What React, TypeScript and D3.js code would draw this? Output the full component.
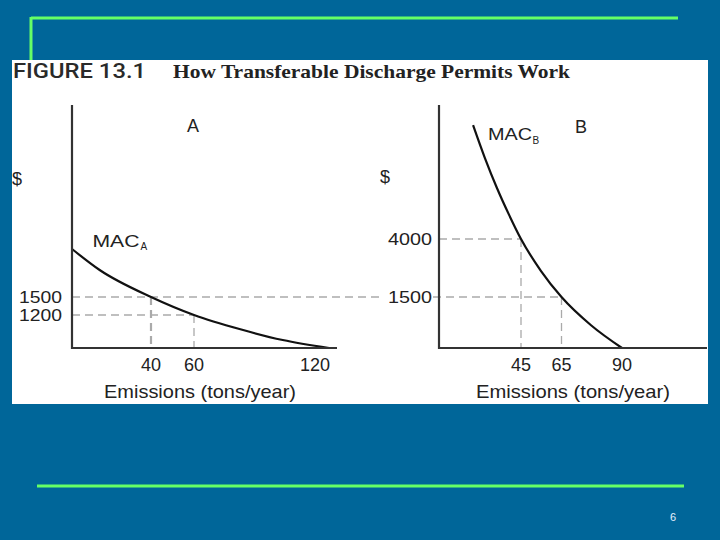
import React from "react";
import * as d3 from "d3";

// ---------- data ----------
const titleNumber = "FIGURE 13.1";
const titleText = "How Transferable Discharge Permits Work";
const xLabel = "Emissions (tons/year)";
const pageNumber = "6";

// Panel A
const xTicksA = [40, 60, 120];
const yTicksA = [1200, 1500];
const macAEmissions = [0, 14, 40, 60, 83, 104, 127];
const macAValues = [2300, 1950, 1500, 1200, 680, 290, 0];
const guidesA = [
  { x: 40, y: 1500 },
  { x: 60, y: 1200 },
];

// Panel B
const xTicksB = [45, 65, 90];
const yTicksB = [1500, 4000];
const macBEmissions = [18.7, 25.2, 31.8, 38.4, 45, 54.9, 65, 77.2, 90];
const macBValues = [8910, 7490, 6200, 5050, 4000, 2620, 1500, 670, 0];
const guidesB = [
  { x: 45, y: 4000 },
  { x: 65, y: 1500 },
];

// ---------- layout ----------
const W = 720;
const H = 540;
const BG = "#006699";
const GREEN = "#66ff66";
const AXIS = "#333";
const DASH = "#aaaaaa";
const SANS = "'Liberation Sans', Arial, sans-serif";

// Schematic (non-uniform) scales, as in the textbook figure
const xA = d3.scaleLinear().domain([0, 40, 60, 120]).range([72, 151, 194, 315]);
const yA = d3.scaleLinear().domain([0, 1200, 1500]).range([348, 315, 297]);
const xB = d3.scaleLinear().domain([0, 45, 65, 90]).range([439, 521, 561.5, 622]);
const yB = d3.scaleLinear().domain([0, 1500, 4000]).range([348, 297, 239]);

const axisTop = 105;
const axisBottom = 348;
const xAEnd = 337;
const xBEnd = 707;

const lineGen = (
  xs: d3.ScaleLinear<number, number>,
  ys: d3.ScaleLinear<number, number>
) =>
  d3
    .line<[number, number]>()
    .x((d) => xs(d[0]))
    .y((d) => ys(d[1]))
    .curve(d3.curveMonotoneX);

const ptsA: [number, number][] = macAEmissions.map((e, i) => [e, macAValues[i]]);
const ptsB: [number, number][] = macBEmissions.map((e, i) => [e, macBValues[i]]);

export default function App() {
  const pathA = lineGen(xA, yA)(ptsA) || "";
  const pathB = lineGen(xB, yB)(ptsB) || "";
  const dashProps = {
    stroke: DASH,
    strokeWidth: 1.3,
    strokeDasharray: "8,5",
    fill: "none",
  };
  return (
    <div style={{ position: "absolute", left: 0, top: 0 }}>
      <svg width={W} height={H} style={{ display: "block" }}>
        <rect x={0} y={0} width={W} height={H} fill={BG} />
        {/* decorative green lines */}
        <line x1={31} y1={18} x2={678} y2={18} stroke={GREEN} strokeWidth={3} />
        <line x1={31} y1={17} x2={31} y2={60} stroke={GREEN} strokeWidth={3} />
        <line x1={37} y1={486} x2={684} y2={486} stroke={GREEN} strokeWidth={3} />
        <text x={673} y={521} fontFamily={SANS} fontSize={11} fill="#e6f0ff" textAnchor="middle">
          {pageNumber}
        </text>

        {/* white figure panel */}
        <rect x={12} y={60} width={696} height={344} fill="#ffffff" />

        {/* title */}
        <text
          x={13}
          y={78}
          fontFamily="Roboto, 'Open Sans', sans-serif"
          fontWeight={500}
          fontSize={21}
          fill="#2a2a2a"
          textLength={133}
          lengthAdjust="spacingAndGlyphs"
        >
          {titleNumber}
        </text>
        <text
          x={173}
          y={78}
          fontFamily="'Liberation Serif', 'DejaVu Serif', serif"
          fontWeight="bold"
          fontSize={19}
          fill="#222"
          textLength={397}
          lengthAdjust="spacingAndGlyphs"
        >
          {titleText}
        </text>

        {/* ---------- Panel A ---------- */}
        <g>
          {guidesA.map((g, i) => (
            <g key={i}>
              <line
                x1={xA(0)}
                x2={i === 0 ? 383 : xA(g.x)}
                y1={yA(g.y)}
                y2={yA(g.y)}
                {...dashProps}
              />
              <line x1={xA(g.x)} x2={xA(g.x)} y1={yA(g.y)} y2={axisBottom} {...dashProps} strokeWidth={i === 0 ? 2.2 : 1.3} />
            </g>
          ))}
          <path d={pathA} fill="none" stroke="#111" strokeWidth={2.2} />
          <line x1={xA(0)} x2={xA(0)} y1={axisTop} y2={axisBottom + 1} stroke={AXIS} strokeWidth={2.2} />
          <line x1={xA(0)} x2={xAEnd} y1={axisBottom} y2={axisBottom} stroke={AXIS} strokeWidth={2.2} />
          {xTicksA.map((t) => (
            <text key={t} x={xA(t)} y={371} textAnchor="middle" fontFamily={SANS} fontSize={18} fill="#222">
              {t}
            </text>
          ))}
          {yTicksA.map((t) => (
            <text key={t} x={62} y={yA(t) + 6} textAnchor="end" fontFamily={SANS} fontSize={16.5} fill="#222" textLength={43} lengthAdjust="spacingAndGlyphs">
              {t}
            </text>
          ))}
          <text x={200} y={398} textAnchor="middle" fontFamily={SANS} fontSize={19} fill="#222" textLength={192} lengthAdjust="spacingAndGlyphs">
            {xLabel}
          </text>
          <text x={12} y={185} fontFamily={SANS} fontSize={18} fill="#222">$</text>
          <text x={193} y={132} textAnchor="middle" fontFamily={SANS} fontSize={18} fill="#222">A</text>
          <text x={92.5} y={246.5} fontFamily={SANS} fontSize={17} fill="#222" textLength={47} lengthAdjust="spacingAndGlyphs">MAC</text>
          <text x={140.5} y={250} fontFamily={SANS} fontSize={10} fill="#222">A</text>
        </g>

        {/* ---------- Panel B ---------- */}
        <g>
          {guidesB.map((g, i) => (
            <g key={i}>
              <line x1={i === 1 ? 433 : xB(0)} x2={xB(g.x)} y1={yB(g.y)} y2={yB(g.y)} {...dashProps} />
              <line x1={xB(g.x)} x2={xB(g.x)} y1={yB(g.y)} y2={axisBottom} {...dashProps} />
            </g>
          ))}
          <path d={pathB} fill="none" stroke="#111" strokeWidth={2.2} />
          <line x1={xB(0)} x2={xB(0)} y1={axisTop} y2={axisBottom + 1} stroke={AXIS} strokeWidth={2.2} />
          <line x1={xB(0)} x2={xBEnd} y1={axisBottom} y2={axisBottom} stroke={AXIS} strokeWidth={2.2} />
          {xTicksB.map((t) => (
            <text key={t} x={xB(t)} y={371} textAnchor="middle" fontFamily={SANS} fontSize={18} fill="#222">
              {t}
            </text>
          ))}
          {yTicksB.map((t) => (
            <text key={t} x={432} y={yB(t) + 6} textAnchor="end" fontFamily={SANS} fontSize={16.5} fill="#222" textLength={44} lengthAdjust="spacingAndGlyphs">
              {t}
            </text>
          ))}
          <text x={573} y={398} textAnchor="middle" fontFamily={SANS} fontSize={19} fill="#222" textLength={194} lengthAdjust="spacingAndGlyphs">
            {xLabel}
          </text>
          <text x={380} y={183} fontFamily={SANS} fontSize={18} fill="#222">$</text>
          <text x={575} y={133} fontFamily={SANS} fontSize={18} fill="#222">B</text>
          <text x={488} y={139.5} fontFamily={SANS} fontSize={17} fill="#222" textLength={44} lengthAdjust="spacingAndGlyphs">MAC</text>
          <text x={532.5} y={143.5} fontFamily={SANS} fontSize={10} fill="#222">B</text>
        </g>
      </svg>
    </div>
  );
}
